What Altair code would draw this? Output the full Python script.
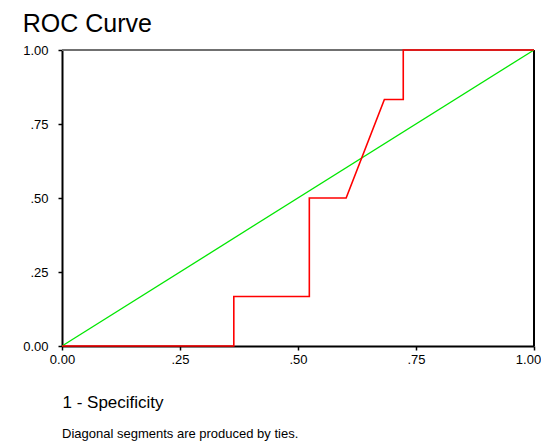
import altair as alt
import pandas as pd

# ROC curve points (1 - specificity, sensitivity)
fpr = [0.0, 0.364, 0.364, 0.524, 0.524, 0.602, 0.683, 0.723, 0.723, 1.0]
tpr = [0.0, 0.0, 0.167, 0.167, 0.5, 0.5, 0.833, 0.833, 1.0, 1.0]
ref_x = [0.0, 1.0]
ref_y = [0.0, 1.0]
tick_vals = [0.0, 0.25, 0.5, 0.75, 1.0]
title_text = "ROC Curve"
x_title = "1 - Specificity"
footnote = "Diagonal segments are produced by ties."

W, H = 472, 296
FONT = "Liberation Sans"

roc = pd.DataFrame({"x": fpr, "y": tpr, "o": list(range(len(fpr)))})
ref = pd.DataFrame({"x": ref_x, "y": ref_y, "o": [0, 1]})

lbl = "datum.value == 0 ? '0.00' : (datum.value == 1 ? '1.00' : replace(format(datum.value, '.2f'), '0.', '.'))"

xs = alt.X("x:Q", scale=alt.Scale(domain=[0, 1], nice=False, zero=False),
           axis=alt.Axis(values=tick_vals, labelExpr=lbl, title=x_title, grid=False,
                         labelFlush=False, labelOverlap=False,
                         labelOffset={"condition": {"test": "datum.value == 1", "value": -6}, "value": 0},
                         titleAnchor="start", titleAlign="left", titleX=0, titleY=56,
                         titleBaseline="middle", titleFontSize=17, titleFontWeight="normal",
                         titleFont=FONT, labelFont=FONT, labelFontSize=13, labelColor="black",
                         labelPadding=3, tickSize=4, tickColor="black", tickWidth=1.5,
                         domainColor="black", domainWidth=2, titleColor="black"))
ys = alt.Y("y:Q", scale=alt.Scale(domain=[0, 1], nice=False, zero=False),
           axis=alt.Axis(values=tick_vals, labelExpr=lbl, title=None, grid=False,
                         labelFlush=False, labelOverlap=False,
                         labelFont=FONT, labelFontSize=13, labelColor="black",
                         labelPadding=10, tickSize=4, tickColor="black", tickWidth=1.5,
                         domainColor="black", domainWidth=2))

diag = alt.Chart(ref).mark_line(color="#00e600", strokeWidth=1.3).encode(x=xs, y=ys, order="o:Q")
curve = alt.Chart(roc).mark_line(color="#ff0000", strokeWidth=1.6).encode(x=xs, y=ys, order="o:Q")

top_rule = alt.Chart(pd.DataFrame({"a": [0]})).mark_rule(color="#707070", strokeWidth=2).encode(
    x=alt.value(0), x2=alt.value(W), y=alt.value(0))
right_rule = alt.Chart(pd.DataFrame({"a": [0]})).mark_rule(color="black", strokeWidth=2).encode(
    x=alt.value(W), y=alt.value(0), y2=alt.value(H))

note = alt.Chart(pd.DataFrame({"t": [footnote]})).mark_text(
    align="left", baseline="middle", font=FONT, fontSize=13, color="black").encode(
    x=alt.value(0), y=alt.value(H + 88), text="t:N")

chart = alt.layer(top_rule, right_rule, diag, curve, note).properties(
    width=W, height=H,
    title=alt.TitleParams(title_text, anchor="start", font=FONT, fontSize=25,
                          fontWeight="normal", color="black", offset=7),
    autosize=alt.AutoSizeParams(type="none"),
    padding={"left": 54, "top": 42, "right": 7, "bottom": 98},
).configure_view(stroke=None)

chart.save("out.html", embed_options={"renderer": "svg", "actions": False})
